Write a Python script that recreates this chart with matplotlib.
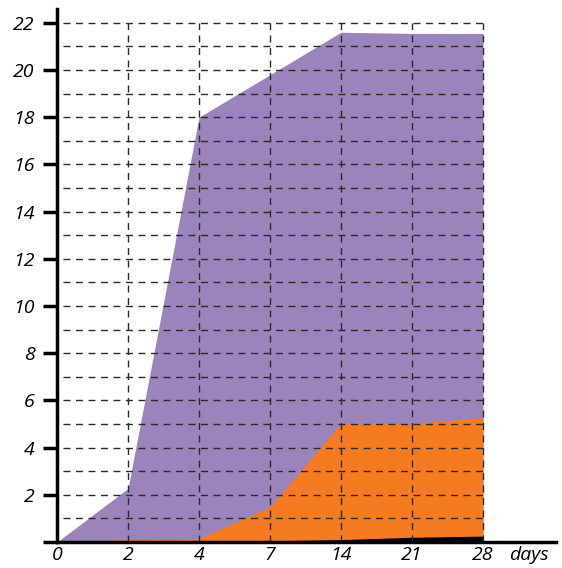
import matplotlib.pyplot as plt

days = ['0', '2', '4', '7', '14', '21', '28']
purple_vals = [0, 2.27, 18.0, 19.8, 21.6, 21.55, 21.55]
orange_vals = [0, 0.1, 0.15, 1.48, 5.03, 5.03, 5.27]
black_vals = [0, 0.05, 0.05, 0.05, 0.1, 0.2, 0.25]
y_ticks = list(range(0, 23, 2))

plt.rcParams['font.family'] = ['Open Sans', 'DejaVu Sans']
plt.rcParams['font.style'] = 'italic'

fig = plt.figure(figsize=(5.62, 5.68), dpi=100)
ax = fig.add_axes([57 / 562, 26 / 568, (556 - 57) / 562, (542 - 9) / 568])

x = list(range(len(days)))
ax.fill_between(x, 0, purple_vals, color='#9b84bb', linewidth=0, zorder=1)
ax.fill_between(x, 0, orange_vals, color='#f47b20', linewidth=0, zorder=2)
ax.fill_between(x, 0, black_vals, color='#000000', linewidth=0, zorder=3)

# dashed grid, limited to the data region
for yv in range(1, 23):
    ax.hlines(yv, 0.08, x[-1], colors='#2a2a2a', linestyles=(0, (5, 4)), linewidth=1, zorder=4)
for xv in x[1:]:
    ax.vlines(xv, 0, 22, colors='#2a2a2a', linestyles=(0, (5, 4)), linewidth=1, zorder=4)

ax.set_xlim(0, (556 - 57) / 71.0)
ax.set_ylim(0, (542 - 9) / 23.6)
ax.set_xticks(x)
ax.set_xticklabels(days)
ax.set_yticks(y_ticks)
ax.set_yticklabels([str(v) if v else '' for v in y_ticks])

for s in ['top', 'right']:
    ax.spines[s].set_visible(False)
for s in ['left', 'bottom']:
    ax.spines[s].set_linewidth(2.5)
    ax.spines[s].set_zorder(5)

ax.tick_params(axis='y', length=10, width=2.5, pad=6, labelsize=14)
ax.tick_params(axis='x', length=0, pad=3, labelsize=14)

ax.text(6.65, -0.15, 'days', ha='center', va='top', fontsize=14, style='italic')

fig.savefig('out.png', dpi=100)
